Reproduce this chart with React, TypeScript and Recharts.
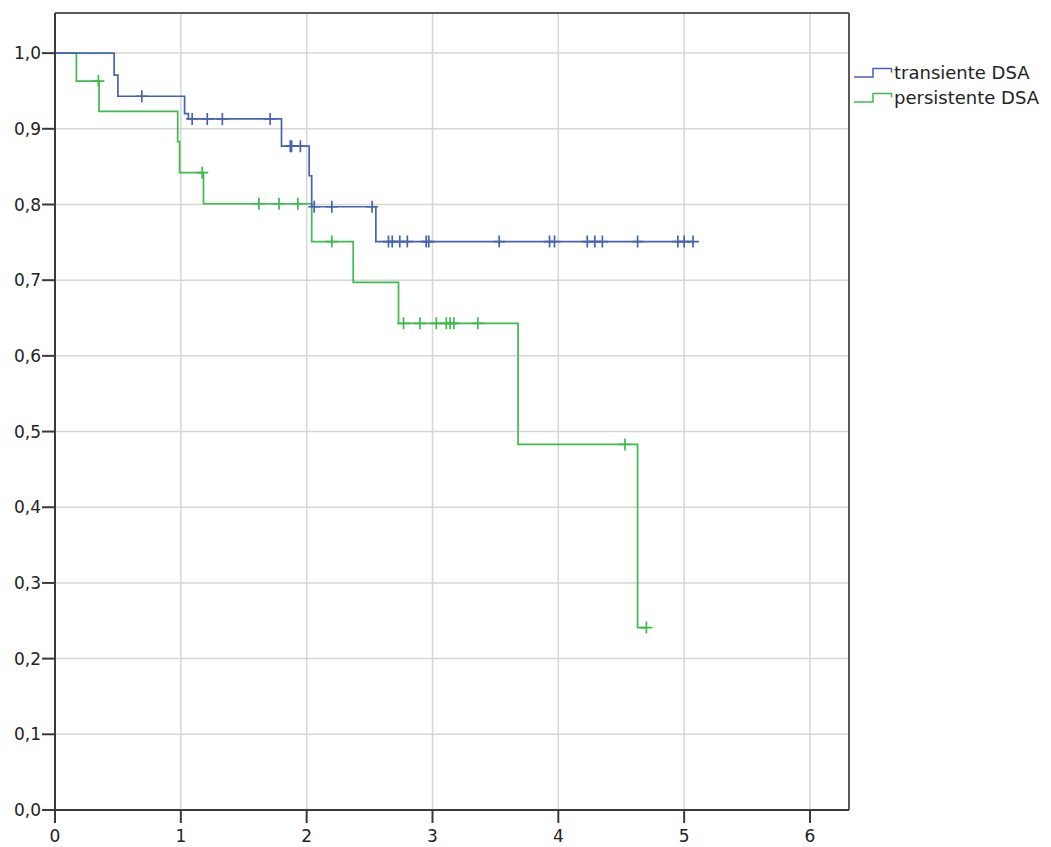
import React from "react";
import {
  LineChart,
  Line,
  XAxis,
  YAxis,
  CartesianGrid,
  ReferenceLine,
} from "recharts";

// Kaplan-Meier estimates, one row per event or censored case
const transientTime = [
  0, 0.47, 0.5, 0.69, 1.03, 1.06, 1.09, 1.21, 1.33, 1.71, 1.8, 1.87, 1.88, 1.95,
  2.02, 2.04, 2.06, 2.2, 2.52, 2.55, 2.65, 2.68, 2.74, 2.8, 2.95, 2.97, 3.53,
  3.93, 3.97, 4.23, 4.29, 4.35, 4.63, 4.95, 5.0, 5.07,
];
const transientSurv = [
  1.0, 0.971, 0.943, 0.943, 0.92, 0.913, 0.913, 0.913, 0.913, 0.913, 0.877,
  0.877, 0.877, 0.877, 0.838, 0.797, 0.797, 0.797, 0.797, 0.751, 0.751, 0.751,
  0.751, 0.751, 0.751, 0.751, 0.751, 0.751, 0.751, 0.751, 0.751, 0.751, 0.751,
  0.751, 0.751, 0.751,
];
const transientCensored = [
  0, 0, 0, 1, 0, 0, 1, 1, 1, 1, 0, 1, 1, 1, 0, 0, 1, 1, 1, 0, 1, 1, 1, 1, 1, 1,
  1, 1, 1, 1, 1, 1, 1, 1, 1, 1,
];

const persistentTime = [
  0, 0.17, 0.345, 0.35, 0.975, 0.99, 1.17, 1.18, 1.62, 1.78, 1.93, 2.04, 2.2,
  2.37, 2.73, 2.77, 2.9, 3.03, 3.11, 3.14, 3.17, 3.36, 3.68, 4.53, 4.63, 4.7,
];
const persistentSurv = [
  1.0, 0.963, 0.963, 0.923, 0.883, 0.842, 0.842, 0.801, 0.801, 0.801, 0.801,
  0.751, 0.751, 0.697, 0.643, 0.643, 0.643, 0.643, 0.643, 0.643, 0.643, 0.643,
  0.483, 0.483, 0.241, 0.241,
];
const persistentCensored = [
  0, 0, 1, 0, 0, 0, 1, 0, 1, 1, 1, 0, 1, 0, 0, 1, 1, 1, 1, 1, 1, 1, 0, 1, 0, 1,
];

const xTicks = [0, 1, 2, 3, 4, 5, 6];
const yTicks = [0, 0.1, 0.2, 0.3, 0.4, 0.5, 0.6, 0.7, 0.8, 0.9, 1.0];

const seriesNames = ["transiente DSA", "persistente DSA"];
const BLUE = "#4662b4";
const GREEN = "#3dbb4c";
const X_MAX = 6.31;
const Y_MAX = 1.053;
const FONT = "'DejaVu Sans', Arial, sans-serif";

const toRows = (time: number[], surv: number[], censored: number[]) =>
  time.map((t, i) => ({ t, s: surv[i], c: censored[i] }));

const transientRows = toRows(transientTime, transientSurv, transientCensored);
const persistentRows = toRows(persistentTime, persistentSurv, persistentCensored);

// "+" marker only where the case was censored
const censorMark = (color: string) => (props: any) => {
  const { cx, cy, payload, index } = props;
  if (!payload || !payload.c) return <g key={`n-${index}`} />;
  return (
    <path
      key={`c-${index}`}
      d={`M${cx - 6},${cy}H${cx + 6}M${cx},${cy - 6}V${cy + 6}`}
      stroke={color}
      strokeWidth={1.7}
      fill="none"
    />
  );
};

const fmt = (v: number) => v.toFixed(1).replace(".", ",");

function StepIcon({ color }: { color: string }) {
  return (
    <svg width={40} height={14} style={{ display: "block" }}>
      <path d="M1,11H20V2.5H38.5V6.5" stroke={color} strokeWidth={1.5} fill="none" />
    </svg>
  );
}

export default function App() {
  const tickStyle = { fill: "#222", fontSize: 17, fontFamily: FONT };
  return (
    <div
      style={{
        position: "absolute",
        left: 0,
        top: 0,
        width: 1051,
        height: 847,
        background: "#fff",
      }}
    >
      <LineChart
        width={1051}
        height={847}
        margin={{ top: 13, right: 202, bottom: 0, left: 0 }}
      >
        <CartesianGrid stroke="#d6d6d6" strokeWidth={1.5} />
        <XAxis
          type="number"
          dataKey="t"
          domain={[0, X_MAX]}
          ticks={xTicks}
          allowDataOverflow
          height={37}
          tick={tickStyle}
          tickSize={13}
          tickMargin={7}
          axisLine={{ stroke: "#3a3a3a", strokeWidth: 2 }}
          tickLine={{ stroke: "#3a3a3a", strokeWidth: 2 }}
        />
        <YAxis
          type="number"
          domain={[0, Y_MAX]}
          ticks={yTicks}
          allowDataOverflow
          width={55}
          tick={tickStyle}
          tickFormatter={fmt}
          tickSize={13}
          tickMargin={1}
          axisLine={{ stroke: "#3a3a3a", strokeWidth: 2 }}
          tickLine={{ stroke: "#3a3a3a", strokeWidth: 2 }}
        />
        <ReferenceLine y={Y_MAX} stroke="#5a5a5a" strokeWidth={2} />
        <ReferenceLine x={X_MAX} stroke="#5a5a5a" strokeWidth={2} />
        <Line
          data={persistentRows}
          dataKey="s"
          type="stepAfter"
          stroke={GREEN}
          strokeWidth={1.7}
          dot={censorMark(GREEN)}
          activeDot={false}
          isAnimationActive={false}
        />
        <Line
          data={transientRows}
          dataKey="s"
          type="stepAfter"
          stroke={BLUE}
          strokeWidth={1.7}
          dot={censorMark(BLUE)}
          activeDot={false}
          isAnimationActive={false}
        />
      </LineChart>
      <div
        style={{
          position: "absolute",
          left: 853,
          top: 60,
          fontFamily: FONT,
          fontSize: 18,
          color: "#222",
          lineHeight: "25px",
        }}
      >
        {seriesNames.map((name, i) => (
          <div key={name} style={{ display: "flex", alignItems: "center" }}>
            <StepIcon color={i === 0 ? BLUE : GREEN} />
            <span style={{ marginLeft: 1 }}>{name}</span>
          </div>
        ))}
      </div>
    </div>
  );
}
